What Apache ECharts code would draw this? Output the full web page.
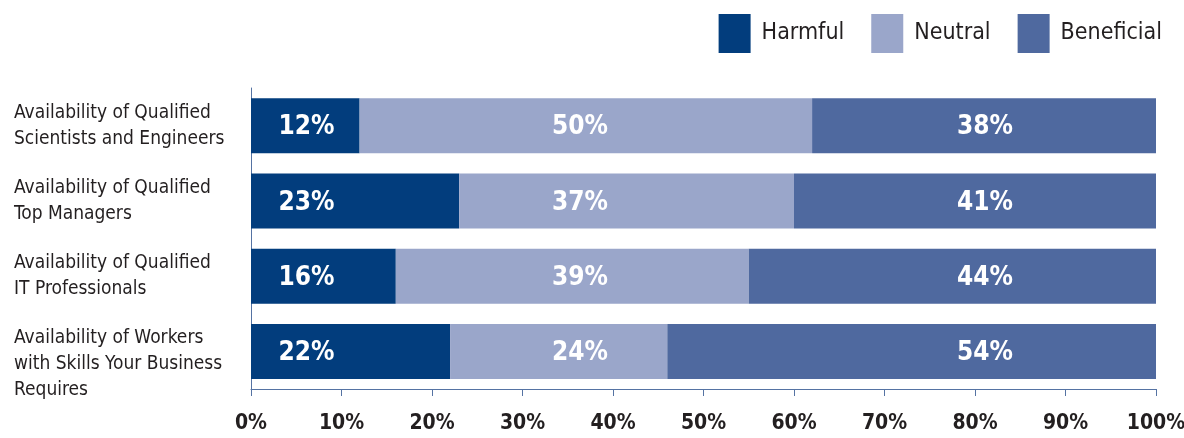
<!DOCTYPE html>
<html>
<head>
<meta charset="utf-8">
<script src="https://cdn.jsdelivr.net/npm/echarts@6/dist/echarts.min.js"></script>
<style>
html,body{margin:0;padding:0;background:#fff;}
#chart{width:1184px;height:438px;}
</style>
</head>
<body>
<div id="chart"></div>
<script>
// ---- data ----
var categories = [
  'Availability of Qualified\nScientists and Engineers',
  'Availability of Qualified\nTop Managers',
  'Availability of Qualified\nIT Professionals',
  'Availability of Workers\nwith Skills Your Business\nRequires'
];
var seriesNames = ['Harmful', 'Neutral', 'Beneficial'];
var harmful = [12, 23, 16, 22];
var neutral = [50, 37, 39, 24];
var beneficial = [38, 41, 44, 54];
var xTicks = [0, 10, 20, 30, 40, 50, 60, 70, 80, 90, 100];

// ---- style ----
var FONT = "'Liberation Sans Narrow','DejaVu Sans Condensed','Liberation Sans',sans-serif";
var colors = ['#023d7d', '#9aa6ca', '#4f699f'];
var axisColor = '#5573a3';
var textColor = '#231f20';
var labelAnchor = [6.13, 36.35, 81.1]; // label centre column per series (axis units)

// Beneficial bar fills the remainder of each 100% bar (printed values are rounded)
var beneficialDrawn = harmful.map(function (h, i) { return 100 - h - neutral[i]; });
var drawn = [harmful, neutral, beneficialDrawn];
var printed = [harmful, neutral, beneficial];

var LH = 26;

var chart = echarts.init(document.getElementById('chart'), null, { renderer: 'canvas' });

function buildSeries(offsets) {
  return seriesNames.map(function (name, s) {
    return {
      name: name,
      type: 'bar',
      stack: 'total',
      barWidth: 55,
      itemStyle: { color: colors[s] },
      emphasis: { disabled: true },
      data: drawn[s].map(function (v, i) {
        return {
          value: v,
          label: {
            show: true,
            position: 'inside',
            offset: offsets ? offsets[s][i] : [0, 0],
            formatter: printed[s][i] + '%',
            color: '#ffffff',
            fontFamily: FONT,
            fontWeight: 'bold',
            fontSize: 26
          }
        };
      })
    };
  });
}

var option = {
  animation: false,
  backgroundColor: '#ffffff',
  textStyle: { fontFamily: FONT },
  legend: {
    data: seriesNames,
    right: 17,
    top: 9,
    icon: 'rect',
    itemWidth: 32,
    itemHeight: 39,
    itemGap: 27,
    textStyle: { fontFamily: FONT, fontSize: 23, color: textColor, padding: [0, 0, 0, 6] }
  },
  grid: { left: 251, right: 28, top: 88, bottom: 49, containLabel: false, outerBoundsMode: 'none' },
  xAxis: {
    type: 'value',
    min: 0,
    max: 100,
    interval: 10,
    axisLine: { show: true, lineStyle: { color: axisColor, width: 1 } },
    axisTick: { show: true, length: 7, lineStyle: { color: axisColor } },
    splitLine: { show: false },
    axisLabel: {
      margin: 24,
      color: textColor,
      fontFamily: FONT,
      fontWeight: 'bold',
      fontSize: 21,
      formatter: function (v) { return xTicks.indexOf(v) >= 0 ? v + '%' : ''; }
    }
  },
  yAxis: {
    type: 'category',
    inverse: true,
    data: categories,
    axisLine: { show: true, lineStyle: { color: axisColor, width: 1 } },
    axisTick: { show: false },
    axisLabel: {
      interval: 0,
      hideOverlap: false,
      margin: 237,
      align: 'left',
      verticalAlign: 'middle',
      color: textColor,
      fontFamily: FONT,
      fontSize: 19,
      lineHeight: LH,
      // keep every label's first line level with the top of its bar
      formatter: function (v) {
        var n = v.split('\n').length;
        return n > 2 ? '{gap| }\n' + v : v;
      },
      rich: {
        gap: { fontSize: 2, lineHeight: LH }
      }
    }
  },
  series: buildSeries(null)
};

chart.setOption(option);

// place value labels at fixed columns, like the reference
var p0 = chart.convertToPixel({ xAxisIndex: 0 }, 0);
var p100 = chart.convertToPixel({ xAxisIndex: 0 }, 100);
var ppu = (p100 - p0) / 100;
var offsets = drawn.map(function (arr, s) {
  return arr.map(function (v, i) {
    var start = 0;
    for (var k = 0; k < s; k++) start += drawn[k][i];
    var centre = start + v / 2;
    return [(labelAnchor[s] - centre) * ppu, 2];
  });
});
chart.setOption({ series: buildSeries(offsets) });
</script>
</body>
</html>
